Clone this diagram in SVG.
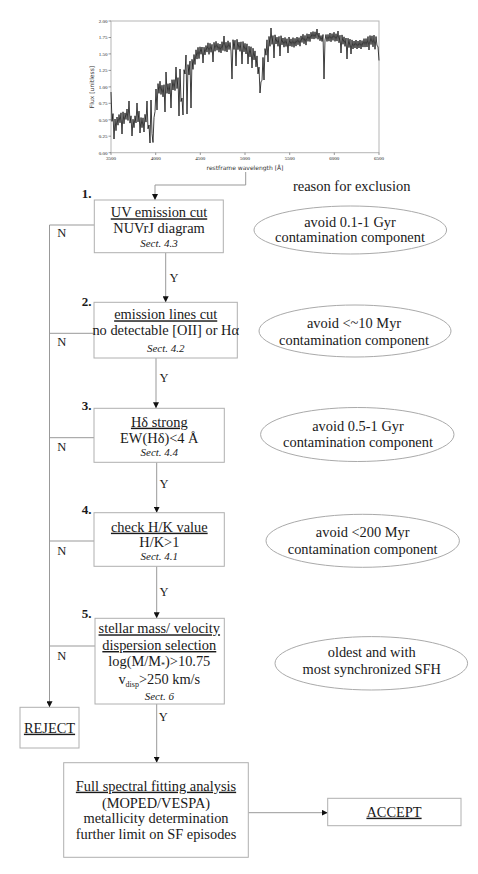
<svg xmlns="http://www.w3.org/2000/svg" width="478" height="874" viewBox="0 0 478 874">
<defs>
<marker id="ah" markerWidth="6" markerHeight="6" refX="6" refY="3" orient="auto" markerUnits="userSpaceOnUse">
<path d="M0,0 L6,3 L0,6 z" fill="#111"/>
</marker>
<style>
text{font-family:"Liberation Serif",serif;fill:#1a1a1a}
.t{font-size:14.4px;text-anchor:middle}
.u{text-decoration:underline}
.s{font-size:11px;font-style:italic;text-anchor:middle}
.n{font-size:13px;font-weight:bold}
.yn{font-size:12.5px;text-anchor:middle}
.box{fill:#fff;stroke:#b0b0b0;stroke-width:1}
.ell{fill:#fff;stroke:#aaa;stroke-width:1}
.c{fill:none;stroke:#999;stroke-width:1}
.ca{fill:none;stroke:#999;stroke-width:1;marker-end:url(#ah)}
.pl{font-family:"DejaVu Sans",sans-serif;font-size:5px;fill:#333}
.tk{stroke:#555;stroke-width:0.6}
</style>
</defs>
<rect width="478" height="874" fill="#fff"/>

<g id="spectrum">
<rect x="111" y="21" width="268" height="131.7" fill="none" stroke="#b5b5b5" stroke-width="1"/>
<path fill="none" stroke="#000" stroke-width="0.75" stroke-linejoin="round" d="M111,92 L112,121.4 113,113.6 114,139 115,119 116,130.7 117,117 118,125.2 119,114.5 120,122.8 121,112.8 122,134 123,111.8 124,123.8 125,112.9 126,119.5 127,109 128,120.5 129,101 130,123.1 131,115.8 132,136 133,119.2 134,127.7 135,115.8 136,122.9 137,103 138,121.9 139,111.1 140,133 141,117.5 142,127.7 143,117.8 144,132 145,114.3 146,122.1 147,101 148,128.8 149,125 150,143 151,100 152,133.6 153,142.5 154,117.6 155,111.6 156,89 157,110 158,83.6 159,93.4 160,81.2 161,94.5 162,85.2 163,96.9 164,84.7 165,112 166,72 167,93.4 168,83.7 169,94 170,83.2 171,108 172,79.7 173,90 174,79.6 175,90.6 176,67 177,88.6 178,77.6 179,116 180,69 181,101.6 182,98 183,115 184,69.7 185,74 186,55 187,114 188,64.6 189,74.9 190,61.1 191,108 192,59.3 193,69.4 194,54.5 195,64.5 196,49.8 197,59.1 198,47.3 199,58.6 200,46.8 201,54.3 202,47 203,63 204,47.2 205,54.9 206,45.5 207,52.1 208,42.8 209,54.4 210,43.3 211,52.3 212,44.3 213,62 214,42.3 215,51.3 216,41.3 217,50.3 218,43.3 219,52.2 220,44 221,52.9 222,41.7 223,50.6 224,36 225,51.3 226,42.2 227,52 228,40.8 229,49.6 230,42.4 231,51.1 232,79 233,39.7 234,49.5 235,40.2 236,66 237,39.3 238,49.7 239,42.1 240,51.4 241,41.8 242,64 243,41.5 244,51.9 245,43.3 246,54 247,43.8 248,64 249,46.2 250,56.9 251,46.7 252,68 253,48.2 254,59.9 255,50.9 256,66.9 257,55.9 258,73.9 259,67.1 260,93 261,81.5 262,80.6 263,57.4 264,80 265,48.6 266,55.2 267,39.8 268,62 269,36.4 270,46.3 271,28 272,44.4 273,35.5 274,58 275,34.8 276,44 277,37.1 278,46.3 279,36.4 280,56 281,35.7 282,44.9 283,38 284,47.2 285,37.4 286,46.5 287,38.7 288,53 289,37 290,46.1 291,38.9 292,46.7 293,37.6 294,47.4 295,38.3 296,46.1 297,37 298,44.8 299,37.6 300,46.2 301,35.9 302,42.5 303,34.2 304,43.8 305,35.4 306,45.1 307,33.7 308,41.4 309,34 310,41.6 311,32.2 312,38.9 313,31.5 314,39.1 315,31.8 316,38.4 317,29 318,39.3 319,33 320,40.8 321,35.5 322,41.5 323,34.5 324,79 325,40 326,34.5 327,41.5 328,34.4 329,41.2 330,33 331,41.8 332,33.6 333,40.4 334,32.2 335,41.4 336,33.7 337,41.1 338,31 339,42.8 340,35.2 341,53 342,34.9 343,44.3 344,36.8 345,46.4 346,38 347,59 348,38.2 349,47.6 350,39.1 351,54 352,39.9 353,49 354,41 355,48 356,40 357,49 358,41 359,48 360,40 361,49 362,40.6 363,47.1 364,38.6 365,47.1 366,38.5 367,47 368,36.5 369,50 370,35.5 371,44.6 372,35.8 373,46.9 374,35.1 375,49.3 376,36.5 377,45.7 378,46.5 379,60.5"/>
<g class="tk">
<line x1="108.5" y1="21" x2="111" y2="21"/><line x1="108.5" y1="37.5" x2="111" y2="37.5"/><line x1="108.5" y1="53.9" x2="111" y2="53.9"/><line x1="108.5" y1="70.4" x2="111" y2="70.4"/><line x1="108.5" y1="86.9" x2="111" y2="86.9"/><line x1="108.5" y1="103.3" x2="111" y2="103.3"/><line x1="108.5" y1="119.8" x2="111" y2="119.8"/><line x1="108.5" y1="136.2" x2="111" y2="136.2"/><line x1="108.5" y1="152.7" x2="111" y2="152.7"/>
<line x1="111" y1="152.7" x2="111" y2="155"/><line x1="155.7" y1="152.7" x2="155.7" y2="155"/><line x1="200.3" y1="152.7" x2="200.3" y2="155"/><line x1="245" y1="152.7" x2="245" y2="155"/><line x1="289.7" y1="152.7" x2="289.7" y2="155"/><line x1="334.3" y1="152.7" x2="334.3" y2="155"/><line x1="379" y1="152.7" x2="379" y2="155"/>
</g>
<g class="pl" text-anchor="end">
<text x="107.5" y="22.8">2.00</text><text x="107.5" y="39.3">1.75</text><text x="107.5" y="55.7">1.50</text><text x="107.5" y="72.2">1.25</text><text x="107.5" y="88.7">1.00</text><text x="107.5" y="105.1">0.75</text><text x="107.5" y="121.6">0.50</text><text x="107.5" y="138">0.25</text><text x="107.5" y="154.5">0.00</text>
</g>
<g class="pl" text-anchor="middle">
<text x="111" y="160">3500</text><text x="155.7" y="160">4000</text><text x="200.3" y="160">4500</text><text x="245" y="160">5000</text><text x="289.7" y="160">5500</text><text x="334.3" y="160">6000</text><text x="379" y="160">6500</text>
</g>
<text class="pl" x="245" y="170" text-anchor="middle" style="font-size:6px">restframe wavelength [Å]</text>
<text class="pl" transform="translate(94,87) rotate(-90)" text-anchor="middle" style="font-size:6px">Flux [unitless]</text>
</g>

<text class="t" x="351.7" y="190.7" style="font-size:14.5px">reason for exclusion</text>

<g id="connectors">
<polyline class="ca" points="245.7,172 245.7,185 155,185 155,200"/>
<line class="ca" x1="165.7" y1="252.7" x2="165.7" y2="302.3"/>
<line class="ca" x1="156" y1="358" x2="156" y2="408.3"/>
<line class="ca" x1="156.7" y1="462.3" x2="156.7" y2="512.7"/>
<line class="ca" x1="156.7" y1="566.3" x2="156.7" y2="618.3"/>
<line class="ca" x1="156.7" y1="704" x2="156.7" y2="762.7"/>
<line class="ca" x1="248.3" y1="812.7" x2="327.7" y2="812.7"/>
<line class="c" x1="49.5" y1="225" x2="94.3" y2="225"/>
<line class="c" x1="49.5" y1="333.3" x2="94" y2="333.3"/>
<line class="c" x1="49.5" y1="437.7" x2="94" y2="437.7"/>
<line class="c" x1="49.5" y1="541" x2="94" y2="541"/>
<line class="c" x1="49.5" y1="646" x2="95" y2="646"/>
<line class="ca" x1="49.5" y1="225" x2="49.5" y2="707.3"/>
<text class="yn" x="174" y="282">Y</text>
<text class="yn" x="164" y="382">Y</text>
<text class="yn" x="164" y="488.3">Y</text>
<text class="yn" x="164" y="596">Y</text>
<text class="yn" x="163.3" y="720.7">Y</text>
<text class="yn" x="61.7" y="237.3">N</text>
<text class="yn" x="61.7" y="346">N</text>
<text class="yn" x="61.7" y="450.7">N</text>
<text class="yn" x="61.7" y="555">N</text>
<text class="yn" x="61.7" y="660">N</text>
</g>

<g id="step1">
<text class="n" x="81.7" y="198">1.</text>
<rect class="box" x="94.3" y="200" width="129" height="52.7"/>
<text class="t u" x="159" y="217.3">UV emission cut</text>
<text class="t" x="159" y="233.3">NUVrJ diagram</text>
<text class="s" x="159" y="246.5">Sect. 4.3</text>
</g>

<g id="step2">
<text class="n" x="81.7" y="305.7">2.</text>
<rect class="box" x="94" y="302.3" width="143.3" height="55.7"/>
<text class="t u" x="165.7" y="319.3">emission lines cut</text>
<text class="t" x="165.7" y="335.3">no detectable [OII] or Hα</text>
<text class="s" x="165.7" y="352">Sect. 4.2</text>
</g>

<g id="step3">
<text class="n" x="81.7" y="410">3.</text>
<rect class="box" x="94" y="408.3" width="130.3" height="54"/>
<text class="t u" x="159.3" y="426.7">Hδ strong</text>
<text class="t" x="159.3" y="442.7">EW(Hδ)&lt;4 Å</text>
<text class="s" x="159.3" y="456">Sect. 4.4</text>
</g>

<g id="step4">
<text class="n" x="81.7" y="514">4.</text>
<rect class="box" x="94" y="512.7" width="130.3" height="53.6"/>
<text class="t u" x="159.3" y="531.7">check H/K value</text>
<text class="t" x="159.3" y="547.3">H/K&gt;1</text>
<text class="s" x="159.3" y="559.7">Sect. 4.1</text>
</g>

<g id="step5">
<text class="n" x="81.7" y="618.3">5.</text>
<rect class="box" x="95" y="618.3" width="129.3" height="85.7"/>
<text class="t u" x="159.3" y="633.3">stellar mass/ velocity</text>
<text class="t u" x="159.3" y="650">dispersion selection</text>
<text class="t" x="159.3" y="665.7">log(M/M<tspan font-size="8" dy="2">*</tspan><tspan dy="-2">)&gt;10.75</tspan></text>
<text class="t" x="159.3" y="684">v<tspan font-size="8" dy="3">disp</tspan><tspan dy="-3">&gt;250 km/s</tspan></text>
<text class="s" x="159.3" y="700">Sect. 6</text>
</g>

<g id="reject">
<rect class="box" x="20" y="707.3" width="59" height="40.7"/>
<text class="t u" x="49.5" y="732.7">REJECT</text>
</g>

<g id="fitting">
<rect class="box" x="63.7" y="762.7" width="184.6" height="94.6"/>
<text class="t u" x="156" y="790.7">Full spectral fitting analysis</text>
<text class="t" x="156" y="807.7">(MOPED/VESPA)</text>
<text class="t" x="156" y="823.3">metallicity determination</text>
<text class="t" x="156" y="839">further limit on SF episodes</text>
</g>

<g id="accept">
<rect class="box" x="327.7" y="798.3" width="133.3" height="27.4"/>
<text class="t u" x="394" y="816.7">ACCEPT</text>
</g>

<g id="reason1">
<ellipse class="ell" cx="350.3" cy="230" rx="96.3" ry="24"/>
<text class="t" x="350" y="226.7">avoid 0.1-1 Gyr</text>
<text class="t" x="350" y="241.7">contamination component</text>
</g>
<g id="reason2">
<ellipse class="ell" cx="355" cy="331" rx="96" ry="26"/>
<text class="t" x="354" y="328.3">avoid &lt;~10 Myr</text>
<text class="t" x="354" y="345">contamination component</text>
</g>
<g id="reason3">
<ellipse class="ell" cx="357.3" cy="434.5" rx="96.7" ry="27"/>
<text class="t" x="358" y="430.7">avoid 0.5-1 Gyr</text>
<text class="t" x="358" y="447.3">contamination component</text>
</g>
<g id="reason4">
<ellipse class="ell" cx="362.7" cy="540.8" rx="96.7" ry="26.5"/>
<text class="t" x="362.7" y="537.3">avoid &lt;200 Myr</text>
<text class="t" x="362.7" y="554">contamination component</text>
</g>
<g id="reason5">
<ellipse class="ell" cx="371.3" cy="663.3" rx="96.3" ry="26.7"/>
<text class="t" x="371.7" y="656.7">oldest and with</text>
<text class="t" x="371.7" y="674">most synchronized SFH</text>
</g>
</svg>
